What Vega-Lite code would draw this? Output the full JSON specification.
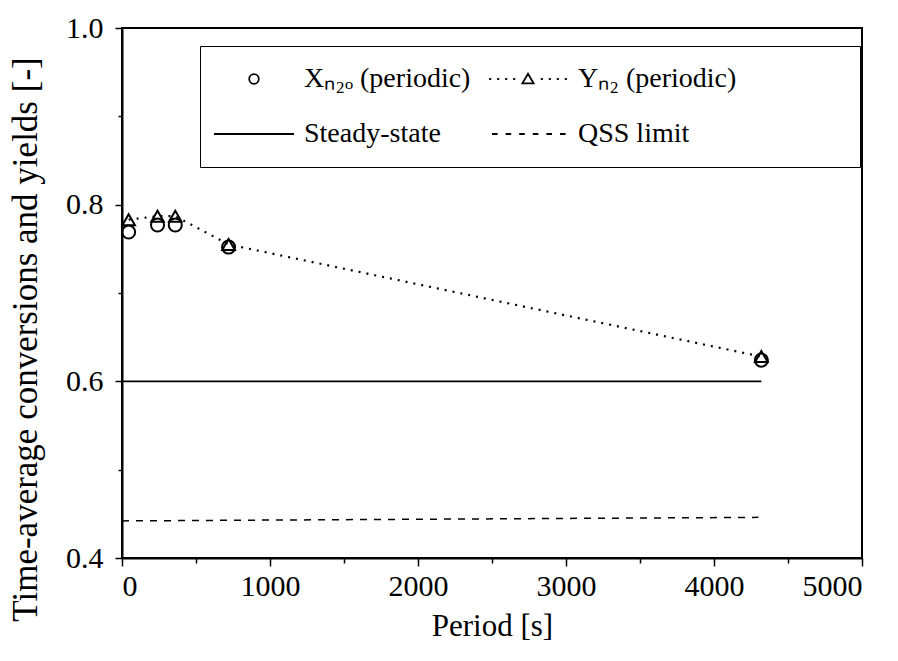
{
  "$schema": "https://vega.github.io/schema/vega-lite/v6.json",
  "autosize": {"type": "none"},
  "width": 740,
  "height": 530,
  "padding": {"left": 122, "top": 28, "right": 36, "bottom": 103},
  "background": "white",
  "config": {
    "view": {"stroke": "black", "strokeWidth": 2},
    "font": "Liberation Serif",
    "style": {
      "guide-label": {"font": "Liberation Serif", "fill": "black"},
      "guide-title": {"font": "Liberation Serif", "fill": "black"}
    },
    "axis": {
      "domainColor": "black", "domainWidth": 2, "tickColor": "black", "tickWidth": 1.5,
      "labelFont": "Liberation Serif", "labelFontSize": 30, "labelColor": "black",
      "titleFont": "Liberation Serif", "titleFontSize": 30, "titleFontWeight": "normal", "titleColor": "black",
      "grid": false
    },
    "legend": {"labelFont": "Liberation Serif", "titleFont": "Liberation Serif"}
  },
  "resolve": {"axis": {"x": "independent", "y": "independent"}},
  "data": {
    "values": [
      {"series": "X", "period": 45, "value": 0.769},
      {"series": "X", "period": 240, "value": 0.777},
      {"series": "X", "period": 360, "value": 0.777},
      {"series": "X", "period": 720, "value": 0.752},
      {"series": "X", "period": 4320, "value": 0.624},
      {"series": "Y", "period": 45, "value": 0.783},
      {"series": "Y", "period": 240, "value": 0.787},
      {"series": "Y", "period": 360, "value": 0.787},
      {"series": "Y", "period": 720, "value": 0.755},
      {"series": "Y", "period": 4320, "value": 0.628},
      {"series": "Steady-state", "period": 0, "value": 0.6},
      {"series": "Steady-state", "period": 4320, "value": 0.6},
      {"series": "QSS limit", "period": 0, "value": 0.442},
      {"series": "QSS limit", "period": 4300, "value": 0.446}
    ]
  },
  "encoding": {
    "x": {"field": "period", "type": "quantitative", "scale": {"domain": [0, 5000], "nice": false, "zero": false}},
    "y": {"field": "value", "type": "quantitative", "scale": {"domain": [0.4, 1.0], "nice": false, "zero": false}}
  },
  "layer": [
    {
      "mark": {"type": "point", "opacity": 0},
      "encoding": {
        "x": {"field": "period", "type": "quantitative", "axis": {"orient": "bottom", "values": [0, 1000, 2000, 3000, 4000, 5000], "format": "d", "tickSize": 8, "labelPadding": 5, "labelFont": "Liberation Serif", "labelFontSize": 30, "labelColor": "black", "title": "Period [s]", "titleFont": "Liberation Serif", "titleFontSize": 31, "titlePadding": 10}},
        "y": {"field": "value", "type": "quantitative", "axis": {"orient": "left", "values": [0.4, 0.6, 0.8, 1.0], "format": ".1f", "tickSize": 7, "labelPadding": 12, "labelFont": "Liberation Serif", "labelFontSize": 30, "labelColor": "black", "title": "Time-average conversions and yields [-]", "titleFont": "Liberation Serif", "titleFontSize": 35, "titleX": -97, "titleY": 311, "titleAlign": "center", "titleBaseline": "middle", "titleAngle": -90}},
        "shape": {
          "field": "series", "type": "nominal",
          "scale": {
            "domain": ["X", "Steady-state", "Y", "QSS limit"],
            "range": [
              "M0.12,0A0.12,0.12,0,1,1,-0.12,0A0.12,0.12,0,1,1,0.12,0Z",
              "M-1,0L1,0",
              "M-0.97,0h0.05M-0.77,0h0.05M-0.57,0h0.05M-0.37,0h0.05M0,-0.13L0.14,0.11L-0.14,0.11ZM0.32,0h0.05M0.52,0h0.05M0.72,0h0.05M0.92,0h0.05",
              "M-0.9,0h0.14M-0.56,0h0.14M-0.22,0h0.14M0.12,0h0.14M0.46,0h0.14M0.8,0h0.14"
            ]
          },
          "legend": {
            "orient": "none", "legendX": 78, "legendY": 18, "columns": 2,
            "title": "MMMM", "titleOrient": "right", "titleFont": "Liberation Serif", "titleFontSize": 28, "titlePadding": 5, "titleOpacity": 0,
            "strokeColor": "black", "padding": 13, "fillColor": "white",
            "clipHeight": 40,
            "symbolSize": 6400, "symbolStrokeColor": "black", "symbolFillColor": "transparent",
            "symbolStrokeWidth": 1.8, "symbolOpacity": 1,
            "labelFont": "Liberation Serif", "labelFontSize": 28, "labelColor": "black", "labelOffset": 9, "labelLimit": 400,
            "columnPadding": 16, "rowPadding": 15,
            "labelExpr": "datum.label == 'X' ? 'Xₙ₂ₒ (periodic)' : datum.label == 'Y' ? 'Yₙ₂ (periodic)' : datum.label"
          }
        }
      }
    },
    {
      "mark": {"type": "point", "opacity": 0},
      "encoding": {
        "x": {"field": "period", "type": "quantitative", "axis": {"orient": "bottom", "values": [500, 1500, 2500, 3500, 4500], "labels": false, "domain": false, "tickSize": 5, "title": null}},
        "y": {"field": "value", "type": "quantitative", "axis": {"orient": "left", "values": [0.5, 0.7, 0.9], "labels": false, "domain": false, "tickSize": 4, "title": null}}
      }
    },
    {
      "transform": [{"filter": "datum.series == 'Steady-state'"}],
      "mark": {"type": "line", "color": "black", "strokeWidth": 1.8},
      "encoding": {"x": {"field": "period", "type": "quantitative", "axis": null}, "y": {"field": "value", "type": "quantitative", "axis": null}}
    },
    {
      "transform": [{"filter": "datum.series == 'QSS limit'"}],
      "mark": {"type": "line", "color": "black", "strokeWidth": 1.5, "strokeDash": [7, 7]},
      "encoding": {"x": {"field": "period", "type": "quantitative", "axis": null}, "y": {"field": "value", "type": "quantitative", "axis": null}}
    },
    {
      "transform": [{"filter": "datum.series == 'Y'"}],
      "mark": {"type": "line", "color": "black", "strokeWidth": 2.2, "strokeDash": [2, 6]},
      "encoding": {"x": {"field": "period", "type": "quantitative", "axis": null}, "y": {"field": "value", "type": "quantitative", "axis": null}}
    },
    {
      "transform": [{"filter": "datum.series == 'Y'"}],
      "mark": {"type": "point", "shape": "triangle-up", "filled": false, "color": "black", "strokeWidth": 2, "size": 160, "opacity": 1},
      "encoding": {"x": {"field": "period", "type": "quantitative", "axis": null}, "y": {"field": "value", "type": "quantitative", "axis": null}}
    },
    {
      "transform": [{"filter": "datum.series == 'X'"}],
      "mark": {"type": "point", "shape": "circle", "filled": false, "color": "black", "strokeWidth": 2, "size": 170, "opacity": 1},
      "encoding": {"x": {"field": "period", "type": "quantitative", "axis": null}, "y": {"field": "value", "type": "quantitative", "axis": null}}
    }
  ]
}
